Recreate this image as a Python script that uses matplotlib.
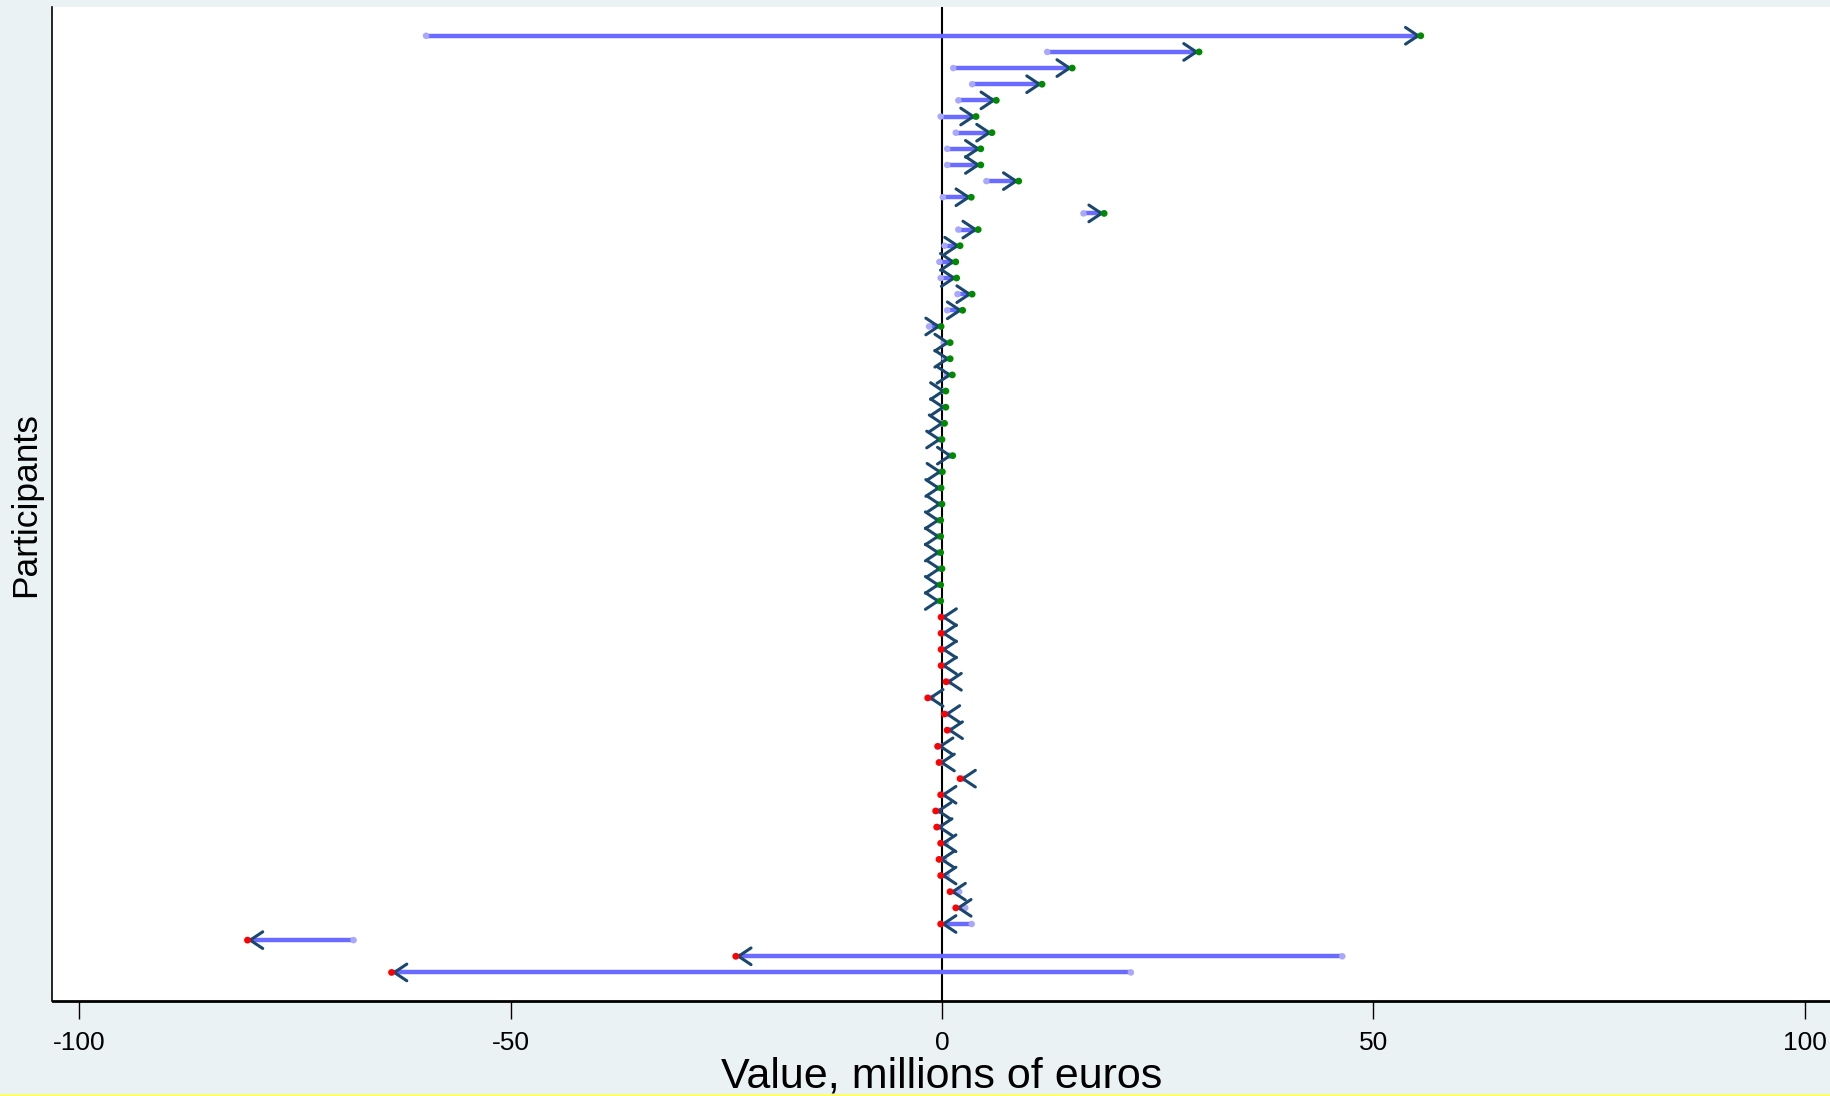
import matplotlib
matplotlib.use("Agg")
import matplotlib.pyplot as plt
from matplotlib.patches import Rectangle
import numpy as np

plt.rcParams['font.family'] = ['Liberation Sans', 'DejaVu Sans']

# Participants, top to bottom: start value and end value (millions of euros)
start_vals = [-59.8, 12.2, 1.3, 3.5, 1.9, -0.15, 1.6, 0.6, 0.6, 5.15,
              0.1, 16.4, 1.9, 0.3, -0.3, -0.15, 1.8, 0.6, -1.5, 0.2,
              0.3, 0.55, 0.15, 0.15, 0.0, -0.25, 0.9, -0.2, -0.4, -0.3,
              -0.45, -0.45, -0.45, -0.3, -0.45, -0.45,
              0.2, 0.2, 0.2, 0.2, 0.8, -1.2, 0.6, 0.9, -0.2, 0.0,
              2.4, 0.2, -0.4, -0.3, 0.43, 0.25, 0.55, 2.0, 2.7, 3.45,
              -68.2, 46.4, 21.9]
end_vals = [55.5, 29.8, 15.1, 11.6, 6.3, 3.95, 5.8, 4.5, 4.5, 8.9,
            3.4, 18.8, 4.2, 2.1, 1.6, 1.7, 3.5, 2.4, -0.1, 0.95,
            0.95, 1.2, 0.45, 0.45, 0.3, 0.0, 1.25, 0.05, -0.1, 0.0,
            -0.15, -0.15, -0.15, 0.0, -0.15, -0.15,
            -0.1, -0.1, -0.1, -0.1, 0.47, -1.65, 0.28, 0.6, -0.5, -0.34,
            2.1, -0.15, -0.73, -0.61, -0.15, -0.34, -0.15, 0.94, 1.6, -0.15,
            -80.5, -23.9, -63.8]
x_ticks = [-100, -50, 0, 50, 100]
x_tick_labels = ['-100', '-50', '0', '50', '100']

start = np.array(start_vals)
end = np.array(end_vals)
n = len(start)
ypos = np.arange(n, 0, -1)  # first participant at top

W, H = 1831, 1096
fig = plt.figure(figsize=(W / 100, H / 100), dpi=100)
fig.patch.set_facecolor('#EAF2F3')

ax_left = 52.5 / W
ax_bottom = (H - 1000.7) / H
ax_top = 1 - 6.7 / H
ax = fig.add_axes([ax_left, ax_bottom, 1 - ax_left, ax_top - ax_bottom])
ax.set_facecolor('white')

ax.axvline(0, color='black', lw=1.5, zorder=1)

# shafts
ax.hlines(ypos, start, end, color='#6B6BFF', lw=3.2, zorder=2)
# start markers
ax.scatter(start, ypos, s=22, color='#A8A8FF', edgecolors='none', zorder=3)
# arrowheads
for s, e, y in zip(start, end, ypos):
    d = 1.0 if e >= s else -1.0
    ax.annotate('', xy=(e, y), xytext=(e - d * 0.02, y),
                arrowprops=dict(arrowstyle='->,head_length=0.45,head_width=0.3',
                                color='#1A476F', lw=2.2, shrinkA=0, shrinkB=0,
                                mutation_scale=20),
                zorder=4)
# end markers
inc = end >= start
ax.scatter(end[inc], ypos[inc], s=24, color='#008A00', edgecolors='none', zorder=5)
ax.scatter(end[~inc], ypos[~inc], s=24, color='#FF0000', edgecolors='none', zorder=5)

ax.set_xlim(-103.1, 103.05)
ax.set_ylim(-0.75, 60.8)

for side in ['top', 'right']:
    ax.spines[side].set_visible(False)
ax.spines['left'].set_color('black')
ax.spines['left'].set_linewidth(1.2)
ax.spines['bottom'].set_color('black')
ax.spines['bottom'].set_linewidth(2.0)

ax.set_xticks(x_ticks)
ax.set_xticklabels(x_tick_labels)
ax.tick_params(axis='x', direction='out', length=13, width=1.0, color='black',
               pad=9, labelsize=19, labelcolor='black')
ax.set_yticks([])

ax.set_xlabel('Value, millions of euros', fontsize=31, color='black', va='center')
ax.xaxis.set_label_coords(0.5001, -(1076.6 - 1000.7) / 994.0)
ax.set_ylabel('Participants', fontsize=25.5, color='black', va='center', ha='center')
ax.yaxis.set_label_coords(-(52.5 - 25.7) / (W - 52.5), 0.4992)

fig.patches.append(Rectangle((0, 0), 1, 2.5 / H, transform=fig.transFigure,
                             facecolor='#FFFF66', edgecolor='none', zorder=10))

fig.savefig('out.png', dpi=100, facecolor=fig.get_facecolor())
